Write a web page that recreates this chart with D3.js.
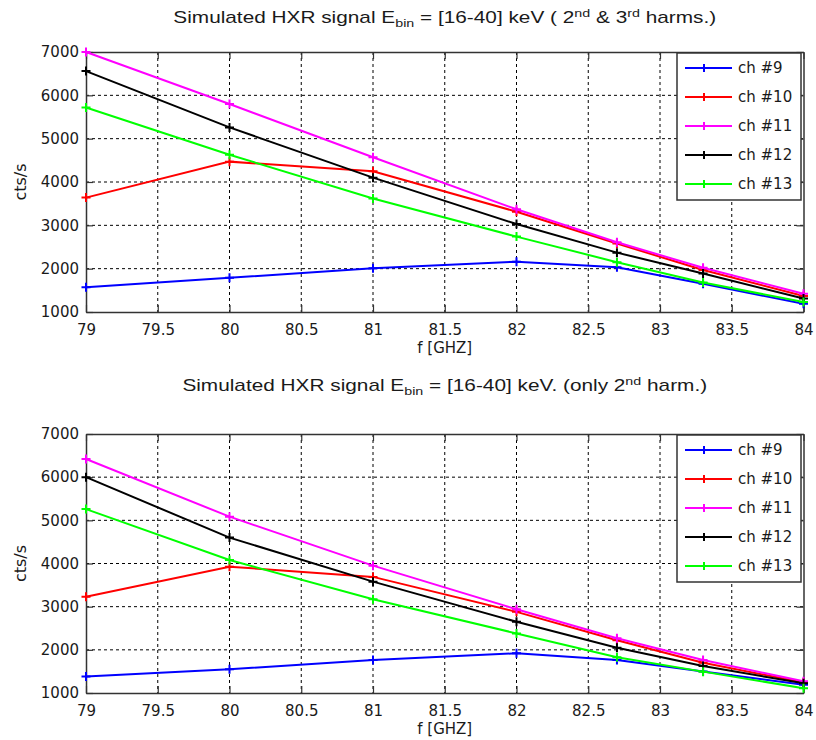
<!DOCTYPE html>
<html>
<head>
<meta charset="utf-8">
<script src="https://cdn.jsdelivr.net/npm/d3@7"></script>
<style>
  body { margin: 0; background: #fff; }
  svg { display: block; }
  text { font-family: "DejaVu Sans", "Liberation Sans", Arial, sans-serif; fill: #1a1a1a; }
</style>
</head>
<body>
<svg id="chart" width="816" height="740"></svg>
<script>
// ---- data ----
const freqs = [79, 80, 81, 82, 82.7, 83.3, 84];
const channels = ["ch #9", "ch #10", "ch #11", "ch #12", "ch #13"];
const colors = ["#0000ff", "#ff0000", "#ff00ff", "#000000", "#00ff00"];
const xTicks = [79, 79.5, 80, 80.5, 81, 81.5, 82, 82.5, 83, 83.5, 84];
const yTicks = [1000, 2000, 3000, 4000, 5000, 6000, 7000];

// panel 1: 2nd & 3rd harmonics
const top_ch9  = [1570, 1790, 2010, 2160, 2030, 1650, 1190];
const top_ch10 = [3640, 4470, 4250, 3315, 2580, 1970, 1370];
const top_ch11 = [7000, 5800, 4570, 3370, 2610, 2020, 1420];
const top_ch12 = [6560, 5260, 4100, 3030, 2370, 1890, 1310];
const top_ch13 = [5720, 4630, 3620, 2740, 2150, 1680, 1230];

// panel 2: only 2nd harmonic
const bot_ch9  = [1380, 1550, 1765, 1920, 1765, 1500, 1190];
const bot_ch10 = [3230, 3925, 3690, 2880, 2220, 1700, 1245];
const bot_ch11 = [6420, 5085, 3950, 2940, 2270, 1765, 1270];
const bot_ch12 = [6000, 4600, 3580, 2650, 2050, 1625, 1225];
const bot_ch13 = [5260, 4080, 3170, 2380, 1830, 1495, 1110];

const svg = d3.select("#chart");

function drawPanel(cfg) {
  const { top, bottom, left, right, series, titleParts, titleY } = cfg;
  const x = d3.scaleLinear().domain([79, 84]).range([left, right]);
  const y = d3.scaleLinear().domain([1000, 7000]).range([bottom, top]);
  const g = svg.append("g");

  // grid
  g.append("g").selectAll("line").data(xTicks.slice(1, -1)).join("line")
    .attr("x1", d => x(d)).attr("x2", d => x(d)).attr("y1", top).attr("y2", bottom)
    .attr("stroke", "#000").attr("stroke-width", 1).attr("stroke-dasharray", "3,3");
  g.append("g").selectAll("line").data(yTicks.slice(1, -1)).join("line")
    .attr("y1", d => y(d)).attr("y2", d => y(d)).attr("x1", left).attr("x2", right)
    .attr("stroke", "#000").attr("stroke-width", 1).attr("stroke-dasharray", "3,3");

  // axes (MATLAB style, ticks inward on all sides)
  const tl = 7;
  const axB = d3.axisBottom(x).tickValues(xTicks).tickSizeInner(-tl).tickSizeOuter(0).tickPadding(12).tickFormat(d3.format("~g"));
  const axT = d3.axisTop(x).tickValues(xTicks).tickSizeInner(-tl).tickSizeOuter(0).tickFormat("");
  const axL = d3.axisLeft(y).tickValues(yTicks).tickSizeInner(-tl).tickSizeOuter(0).tickPadding(7).tickFormat(d3.format("d"));
  const axR = d3.axisRight(y).tickValues(yTicks).tickSizeInner(-tl).tickSizeOuter(0).tickFormat("");
  const style = sel => {
    sel.select(".domain").attr("stroke", "#333").attr("stroke-width", 1.5);
    sel.selectAll(".tick line").attr("stroke", "#333").attr("stroke-width", 1.2);
    sel.selectAll(".tick text").attr("font-size", 15).attr("fill", "#1a1a1a")
      .style("font-family", "'DejaVu Sans', sans-serif");
  };
  g.append("g").attr("transform", `translate(0,${bottom})`).call(axB).call(style);
  g.append("g").attr("transform", `translate(0,${top})`).call(axT).call(style);
  g.append("g").attr("transform", `translate(${left},0)`).call(axL).call(style);
  g.append("g").attr("transform", `translate(${right},0)`).call(axR).call(style);

  // lines
  const line = d3.line().x((d, i) => x(freqs[i])).y(d => y(d));
  series.forEach((vals, k) => {
    g.append("path").datum(vals).attr("d", line)
      .attr("fill", "none").attr("stroke", colors[k]).attr("stroke-width", 2);
    const m = 4.5;
    g.append("g").selectAll("path").data(vals).join("path")
      .attr("d", (d, i) => {
        const cx = x(freqs[i]), cy = y(d);
        return `M${cx - m},${cy}H${cx + m}M${cx},${cy - m}V${cy + m}`;
      })
      .attr("stroke", colors[k]).attr("stroke-width", 2).attr("fill", "none");
  });

  // title (horizontally stretched like the reference)
  const t = g.append("text")
    .attr("transform", `translate(${(left + right) / 2},${titleY}) scale(1.3,1)`)
    .attr("text-anchor", "middle").attr("font-size", 16)
    .style("font-family", "'Liberation Sans', Arial, sans-serif");
  titleParts.forEach(p => {
    const ts = t.append("tspan").text(p.t);
    if (p.sub) ts.attr("font-size", 11).attr("dy", 4);
    if (p.sup) ts.attr("font-size", 11).attr("dy", -6);
    if (p.back) ts.attr("dy", p.back);
  });

  // axis labels
  g.append("text").attr("x", (left + right) / 2).attr("y", bottom + 41)
    .attr("text-anchor", "middle").attr("font-size", 15)
    .style("font-family", "'DejaVu Sans', sans-serif").text("f [GHZ]");
  g.append("text").attr("transform", `translate(${left - 60},${(top + bottom) / 2}) rotate(-90)`)
    .attr("text-anchor", "middle").attr("font-size", 16)
    .style("font-family", "'DejaVu Sans', sans-serif").text("cts/s");

  // legend
  const lx = 677, lw = 124, ly = top + 1, lh = 147;
  const leg = g.append("g");
  leg.append("rect").attr("x", lx).attr("y", ly).attr("width", lw).attr("height", lh)
    .attr("fill", "#fff").attr("stroke", "#333").attr("stroke-width", 1.5);
  channels.forEach((c, k) => {
    const yy = ly + 15 + k * 29;
    leg.append("line").attr("x1", lx + 8).attr("x2", lx + 55).attr("y1", yy).attr("y2", yy)
      .attr("stroke", colors[k]).attr("stroke-width", 2);
    leg.append("path").attr("d", `M${lx + 27},${yy - 4}V${yy + 4}`)
      .attr("stroke", colors[k]).attr("stroke-width", 2);
    leg.append("text").attr("x", lx + 61).attr("y", yy + 5).attr("font-size", 15)
      .style("font-family", "'DejaVu Sans', sans-serif").text(c);
  });
}

drawPanel({
  top: 52, bottom: 312, left: 86, right: 803.5, titleY: 23,
  series: [top_ch9, top_ch10, top_ch11, top_ch12, top_ch13],
  titleParts: [
    { t: "Simulated HXR signal E" }, { t: "bin", sub: true },
    { t: " = [16-40] keV ( 2", back: -4 }, { t: "nd", sup: true },
    { t: " & 3", back: 6 }, { t: "rd", sup: true },
    { t: " harms.)", back: 6 }
  ]
});

drawPanel({
  top: 434, bottom: 693, left: 86, right: 803.5, titleY: 391,
  series: [bot_ch9, bot_ch10, bot_ch11, bot_ch12, bot_ch13],
  titleParts: [
    { t: "Simulated HXR signal E" }, { t: "bin", sub: true },
    { t: " = [16-40] keV. (only 2", back: -4 }, { t: "nd", sup: true },
    { t: " harm.)", back: 6 }
  ]
});
</script>
</body>
</html>
